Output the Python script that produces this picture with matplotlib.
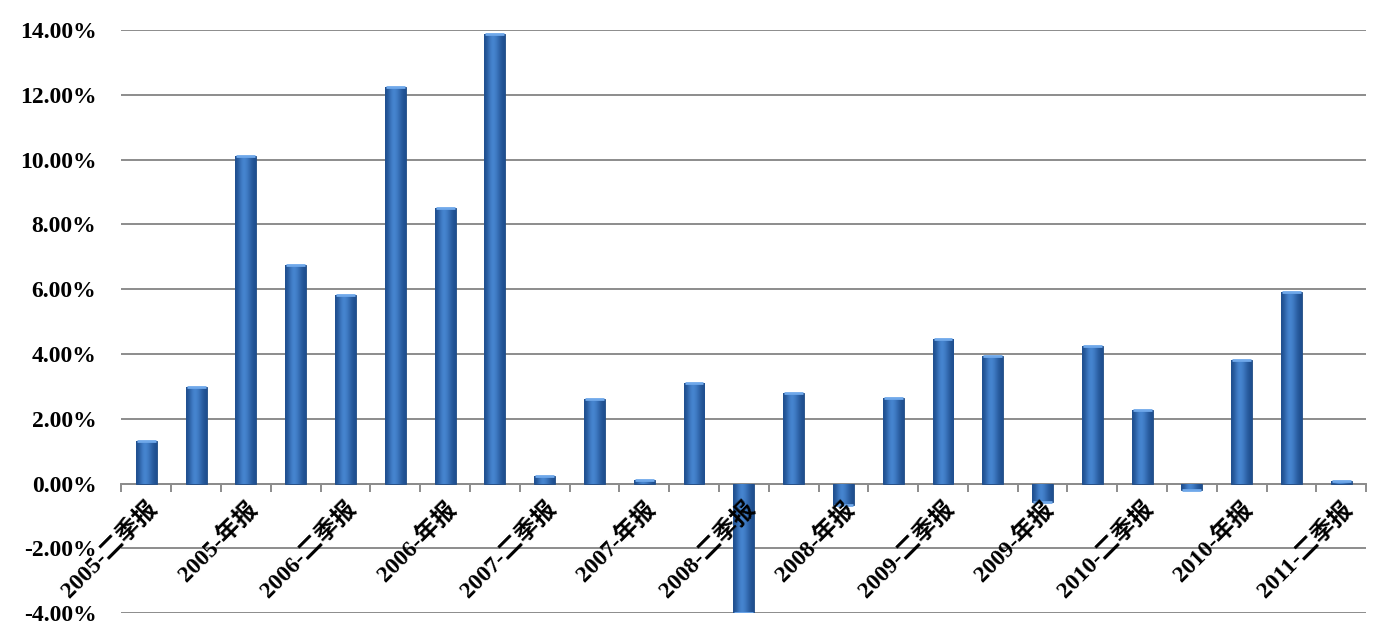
import matplotlib
matplotlib.use("Agg")
import matplotlib.pyplot as plt
import numpy as np

# datos
categorias = ["2005-二季报", "2005-三季报", "2005-年报",
              "2006-一季报", "2006-二季报", "2006-三季报", "2006-年报",
              "2007-一季报", "2007-二季报", "2007-三季报", "2007-年报",
              "2008-一季报", "2008-二季报", "2008-三季报", "2008-年报",
              "2009-一季报", "2009-二季报", "2009-三季报", "2009-年报",
              "2010-一季报", "2010-二季报", "2010-三季报", "2010-年报",
              "2011-一季报", "2011-二季报"]
valores = [1.33, 2.97, 10.12, 6.76, 5.83, 12.25, 8.52, 13.87, 0.25, 2.62, 0.10,
           3.10, -3.98, 2.80, -0.66, 2.63, 4.47, 3.93, -0.57, 4.24, 2.27, -0.20,
           3.83, 5.92, 0.08]
yticks = [-4, -2, 0, 2, 4, 6, 8, 10, 12, 14]

plt.rcParams['font.family'] = ['Liberation Serif', 'Noto Sans CJK SC']

fig = plt.figure(figsize=(13.8, 6.27), dpi=100)
ax = fig.add_axes([0.088, 0.022, 0.902, 0.930])

x = np.arange(len(categorias))
barras = ax.bar(x, valores, width=0.42, color="#2f68ae", edgecolor="#1f4a82",
                linewidth=0.6, zorder=3)

# degradado horizontal en cada barra
grad = np.array([[0.0, 0.35, 0.6, 0.45, 0.2, 0.0]])
cmap = matplotlib.colors.LinearSegmentedColormap.from_list("b", ["#1f4f8f", "#4a8ad6"])
for b in barras:
    bx, by = b.get_x(), b.get_y()
    w, h = b.get_width(), b.get_height()
    im = ax.imshow(grad, cmap=cmap, aspect="auto", extent=[bx, bx + w, by, by + h],
                   zorder=4, interpolation="bicubic")
    im.set_clip_path(b)
    # tapa clara
    ax.plot([bx + 0.02, bx + w - 0.02], [by + h, by + h], color="#6fa8ea",
            lw=2, zorder=5, solid_capstyle="butt")

ax.set_xlim(-0.5, len(categorias) - 0.5)
ax.set_ylim(-4, 14)
ax.set_yticks(yticks)
ax.set_yticklabels(["%.2f%%" % v for v in yticks], fontsize=17, fontweight="bold")
ax.grid(axis="y", color="#8c8c8c", lw=1.4, zorder=0)
ax.tick_params(axis="y", length=0, pad=18)

for s in ["left", "right", "top"]:
    ax.spines[s].set_visible(False)
ax.spines["bottom"].set_position(("data", 0))
ax.spines["bottom"].set_color("#8c8c8c")
ax.spines["bottom"].set_linewidth(1.4)
ax.spines["bottom"].set_zorder(2)

ax.set_xticks(x[::2])
ax.set_xticklabels(categorias[::2], rotation=45, ha="right", va="top",
                   rotation_mode="anchor", fontsize=17, fontweight="bold")
ax.set_xticks(np.arange(-0.5, len(categorias), 1), minor=True)
ax.tick_params(axis="x", which="major", length=0, pad=10)
ax.tick_params(axis="x", which="minor", length=6, width=1.4, color="#8c8c8c")
ax.xaxis.set_zorder(6)

plt.savefig("out.png", dpi=100)
